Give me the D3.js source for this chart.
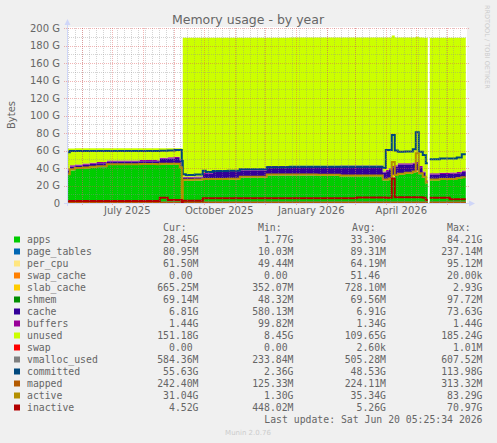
<!DOCTYPE html>
<html lang="en">
<head>
<meta charset="UTF-8">
<title>Memory usage - by year</title>
<script src="https://cdnjs.cloudflare.com/ajax/libs/d3/7.8.5/d3.min.js"></script>
<style>
  body { margin: 0; background: #f0f0f0; }
  svg { display: block; }
  text { font-family: "DejaVu Sans", sans-serif; fill: #666; }
  .mono text { font-family: "DejaVu Sans Mono", monospace; font-size: 9.8px; white-space: pre; }
</style>
</head>
<body>
<svg id="chart" width="497" height="443"></svg>
<script>
// sample dates (one value per series per date, step held until the next date)
const dates = [
  "2025-05-17", "2025-05-20", "2025-05-25", "2025-06-02", "2025-06-09", "2025-06-16", "2025-06-26",
  "2025-07-14", "2025-07-29", "2025-08-15", "2025-08-18", "2025-08-26", "2025-09-02", "2025-09-07",
  "2025-09-09", "2025-09-10", "2025-09-13", "2025-09-22", "2025-09-30", "2025-10-03", "2025-10-10",
  "2025-10-25", "2025-11-06", "2025-11-21", "2025-12-03", "2025-12-26", "2026-01-22", "2026-02-14",
  "2026-03-03", "2026-03-18", "2026-03-29", "2026-04-01", "2026-04-04", "2026-04-07", "2026-04-10",
  "2026-04-13", "2026-04-20", "2026-04-28", "2026-05-01", "2026-05-04", "2026-05-08", "2026-05-11",
  "2026-05-13", "2026-05-14", "2026-05-15", "2026-05-25", "2026-06-04", "2026-06-11", "2026-06-16",
  "2026-06-20"
];

// stacked series, in GiB
const apps = [32, 37.5, 39, 39.6, 40.5, 41, 43.4, 43.4, 43.6, 43.4, 44, 44, 44, 40, 1.8, 25.5, 25.5, 25.8, 26.5, 26.5, 26.5,
  26.8, 29, 29, 31.5, 31.5, 31.2, 30.5, 30.5, 30.5, 26, 26, 27, 29, 31, 32.5, 33.5, 35, 35.5, 33, 29, 22.5,
  22.5, null, 26, 26.5, 26.5, 27.5, 28.5, 28.5];
const page_tables = [0.07, 0.07, 0.07, 0.07, 0.07, 0.07, 0.07, 0.07, 0.07, 0.07, 0.07, 0.07, 0.07, 0.07, 0.01, 0.09, 0.09, 0.09, 0.09, 0.09, 0.09,
  0.09, 0.09, 0.09, 0.09, 0.09, 0.09, 0.09, 0.09, 0.09, 0.09, 0.09, 0.09, 0.2, 0.09, 0.09, 0.09, 0.09, 0.2, 0.09, 0.09, 0.08,
  0.08, null, 0.08, 0.08, 0.08, 0.08, 0.08, 0.08];
const per_cpu = [0.05, 0.05, 0.05, 0.05, 0.05, 0.05, 0.05, 0.05, 0.05, 0.05, 0.05, 0.05, 0.05, 0.05, 0.05, 0.06, 0.06, 0.06, 0.06, 0.06, 0.06,
  0.06, 0.06, 0.06, 0.06, 0.06, 0.06, 0.06, 0.06, 0.06, 0.06, 0.06, 0.06, 0.06, 0.06, 0.06, 0.06, 0.06, 0.06, 0.06, 0.06, 0.06,
  0.06, null, 0.06, 0.06, 0.06, 0.06, 0.06, 0.06];
const swap_cache = [0, 0, 0, 0, 0, 0, 0, 0, 0, 0, 0, 0, 0, 0, 0, 0, 0, 0, 0, 0, 0,
  0, 0, 0, 0, 0, 0, 0, 0, 0, 0, 0, 0, 0, 0, 0, 0, 0, 0, 0, 0, 0,
  0, null, 0, 0, 0, 0, 0, 0];
const slab_cache = [0.6, 0.6, 0.65, 0.65, 0.65, 0.7, 0.7, 0.7, 0.7, 0.7, 0.75, 0.75, 0.75, 0.8, 0.4, 0.5, 0.5, 0.55, 0.6, 0.6, 0.65,
  0.65, 0.7, 0.7, 0.7, 0.75, 0.75, 0.75, 0.75, 0.75, 0.8, 0.8, 0.8, 2.9, 0.8, 0.8, 0.8, 0.8, 1.5, 0.8, 0.7, 0.65,
  0.65, null, 0.65, 0.65, 0.65, 0.65, 0.67, 0.67];
const shmem = [0.06, 0.06, 0.06, 0.06, 0.07, 0.07, 0.07, 0.07, 0.07, 0.07, 0.07, 0.07, 0.07, 0.07, 0.05, 0.07, 0.07, 0.07, 0.07, 0.07, 0.07,
  0.07, 0.07, 0.07, 0.07, 0.07, 0.07, 0.07, 0.07, 0.07, 0.07, 0.07, 0.07, 0.07, 0.07, 0.07, 0.07, 0.07, 0.07, 0.07, 0.07, 0.07,
  0.07, null, 0.07, 0.07, 0.07, 0.07, 0.07, 0.07];
const cache = [4.5, 3.5, 3, 3.3, 3.5, 3.5, 3, 3, 3.2, 3.3, 5.5, 6, 6.5, 7.5, 0.6, 2.5, 2.5, 2.6, 5.8, 6.2, 8.2,
  7.8, 7.2, 7.2, 8.5, 8.7, 9, 10, 10, 10, 7.7, 9.2, 10.3, 8.7, 9.7, 10.5, 9.5, 8.7, 8.2, 6.7, 4.7, 1.2,
  1.2, null, 5.7, 5.7, 6.2, 5.7, 6.2, 6.2];
const buffers = [1.2, 1.25, 1.3, 1.3, 1.3, 1.35, 1.35, 1.35, 1.35, 1.4, 1.4, 1.4, 1.4, 1.4, 0.1, 1.2, 1.25, 1.25, 1.3, 1.3, 1.3,
  1.3, 1.35, 1.35, 1.35, 1.35, 1.4, 1.4, 1.4, 1.4, 1.4, 1.4, 1.4, 1.4, 1.4, 1.44, 1.44, 1.44, 1.44, 1.44, 1.44, 1.44,
  1.44, null, 1.44, 1.44, 1.44, 1.44, 1.44, 1.44];
const unused = [23.9, 19.3, 18.3, 17.4, 16.3, 15.7, 13.8, 13.8, 13.4, 13.5, 10.7, 10.2, 9.7, 12.7, 59.1, 158.9, 158.8, 158.4, 154.5, 154.1, 152.1,
  152.2, 150.5, 150.5, 146.7, 146.5, 146.5, 146.2, 146.2, 146.2, 153, 151.5, 149.4, 149, 146, 143.6, 143.6, 142.9, 142.9, 146.9, 152.9, 162.9,
  162.9, null, 154.9, 154.4, 153.9, 153.4, 151.9, 151.9];
const swap = [0, 0, 0, 0, 0, 0, 0, 0, 0, 0, 0, 0, 0, 0, 0, 0, 0, 0, 0, 0, 0,
  0, 0, 0, 0, 0, 0, 0, 0, 0, 0, 0, 0, 0, 0, 0, 0, 0, 0, 0, 0, 0,
  0, null, 0, 0, 0, 0, 0, 0];

// line series, in GiB
const vmalloc_used = [0.5, 0.5, 0.5, 0.5, 0.5, 0.5, 0.5, 0.5, 0.5, 0.5, 0.5, 0.5, 0.5, 0.5, 0.25, 0.55, 0.55, 0.55, 0.55, 0.55, 0.55,
  0.55, 0.55, 0.55, 0.55, 0.55, 0.55, 0.55, 0.55, 0.55, 0.58, 0.58, 0.58, 0.6, 0.58, 0.58, 0.58, 0.58, 0.6, 0.58, 0.58, 0.58,
  0.58, null, 0.58, 0.58, 0.58, 0.58, 0.58, 0.58];
const committed = [58, 59.4, 59.4, 59.4, 59.4, 59.4, 59.4, 59.4, 59.4, 59.4, 59.6, 60, 60.5, 60.5, 48, 33, 32, 32.5, 37, 35.5, 36.5,
  37, 38.5, 38.5, 41, 41.5, 41.5, 41.5, 41.5, 41.5, 40, 60.6, 60.6, 77.7, 60, 58.7, 59, 61.3, 80.8, 58.7, 55, 45.3,
  45.3, null, 50, 51, 51, 52, 55.6, 55.6];
const mapped = [0.2, 0.2, 0.2, 0.2, 0.2, 0.2, 0.2, 0.2, 0.2, 0.22, 0.22, 0.22, 0.22, 0.22, 0.13, 0.2, 0.2, 0.2, 0.22, 0.22, 0.22,
  0.22, 0.22, 0.22, 0.23, 0.23, 0.23, 0.23, 0.23, 0.23, 0.23, 0.24, 0.24, 0.3, 0.24, 0.24, 0.24, 0.24, 0.31, 0.24, 0.24, 0.24,
  0.24, null, 0.24, 0.24, 0.24, 0.24, 0.24, 0.24];
const active = [33, 38.5, 40, 40.6, 41.5, 42, 44.4, 44.4, 44.6, 44.4, 45, 45, 45, 41, 1.3, 26.5, 26.5, 26.8, 27.5, 27.5, 27.5,
  27.8, 30, 30, 32.5, 32.5, 32.2, 31.5, 31.5, 31.5, 27, 27, 28, 47, 32, 33.5, 34.5, 36, 56.8, 34, 30, 23.5,
  23.5, null, 27, 27.5, 27.5, 28.5, 29.5, 29.5];
const inactive = [2.3, 2.3, 2.3, 2.3, 2.3, 2.3, 2.3, 2.3, 2.3, 2.3, 6, 3.4, 3.4, 3.4, 0.5, 2.7, 2.7, 2.7, 5.3, 5.3, 5.3,
  5.3, 5.3, 5.3, 5.3, 5.3, 5.3, 5.5, 6.2, 6.2, 6.2, 6, 6, 28, 6.5, 6.5, 6.5, 6.5, 6.5, 6.5, 6, 3.5,
  3.5, null, 6, 6, 4.2, 4.2, 4.2, 4.2];

// legend
const names = ["apps", "page_tables", "per_cpu", "swap_cache", "slab_cache", "shmem", "cache", "buffers",
  "unused", "swap", "vmalloc_used", "committed", "mapped", "active", "inactive"];
const colors = ["#00CC00", "#0066B3", "#FFE680", "#FF8000", "#FFCC00", "#008F00", "#330099", "#990099",
  "#CCFF00", "#FF0000", "#808080", "#00487D", "#B35A00", "#B38F00", "#B30000"];
const curText = ["28.45G", "80.95M", "61.50M", "0.00 ", "665.25M", "69.14M", "6.81G", "1.44G",
  "151.18G", "0.00 ", "584.36M", "55.63G", "242.40M", "31.04G", "4.52G"];
const minText = ["1.77G", "10.03M", "49.44M", "0.00 ", "352.07M", "48.32M", "580.13M", "99.82M",
  "8.45G", "0.00 ", "233.84M", "2.36G", "125.33M", "1.30G", "448.02M"];
const avgText = ["33.30G", "89.31M", "64.19M", "51.46 ", "728.10M", "69.56M", "6.91G", "1.34G",
  "109.65G", "2.60k", "505.28M", "48.53G", "224.11M", "35.34G", "5.26G"];
const maxText = ["84.21G", "237.14M", "95.12M", "20.00k", "2.93G", "97.72M", "73.63G", "1.44G",
  "185.24G", "1.01M", "607.52M", "113.98G", "313.32M", "83.29G", "70.97G"];

const yTicks = [0, 20, 40, 60, 80, 100, 120, 140, 160, 180, 200];
const xTickDates = ["2025-07-16", "2025-10-16", "2026-01-16", "2026-04-16"];
const xTickLabels = ["July 2025", "October 2025", "January 2026", "April 2026"];

const stackKeys = names.slice(0, 10);
const lineKeys = names.slice(10);
const seriesByName = { apps, page_tables, per_cpu, swap_cache, slab_cache, shmem, cache, buffers, unused, swap,
  vmalloc_used, committed, mapped, active, inactive };
const colorOf = Object.fromEntries(names.map((n, i) => [n, colors[i]]));

const svg = d3.select("#chart");
const W = 497, H = 443;
const pLeft = 67, pRight = 467, pTop = 28, pBottom = 203;

const x = d3.scaleUtc()
  .domain([new Date("2025-05-16T05:25:00Z"), new Date("2026-06-20T05:25:00Z")])
  .range([66, 466]);
const y = d3.scaleLinear().domain([0, 200]).range([pBottom, pTop]);

svg.append("rect").attr("width", W).attr("height", H).attr("fill", "#f0f0f0");
svg.append("rect").attr("x", pLeft).attr("y", pTop - 1).attr("width", pRight - pLeft).attr("height", pBottom - pTop + 1).attr("fill", "#fff");

svg.append("defs").append("clipPath").attr("id", "clip")
  .append("rect").attr("x", pLeft).attr("y", pTop - 1).attr("width", pRight - pLeft).attr("height", pBottom - pTop + 1);

const rows = dates.map((d, i) => {
  const r = { date: new Date(d) };
  names.forEach(n => r[n] = seriesByName[n][i]);
  return r;
});

const stacked = d3.stack().keys(stackKeys).value((r, k) => r[k] == null ? 0 : r[k])(rows);

const area = d3.area()
  .curve(d3.curveStepAfter)
  .defined(d => d.data.apps != null)
  .x(d => x(d.data.date))
  .y0(d => y(d[0]))
  .y1(d => y(d[1]));

const dataG = svg.append("g").attr("clip-path", "url(#clip)");
dataG.selectAll("path.area")
  .data(stacked)
  .join("path")
  .attr("class", "area")
  .attr("fill", d => colorOf[d.key])
  .attr("d", area);

lineKeys.forEach(k => {
  const line = d3.line()
    .curve(d3.curveStepAfter)
    .defined(r => r[k] != null)
    .x(r => x(r.date))
    .y(r => y(r[k]));
  dataG.append("path")
    .attr("fill", "none")
    .attr("stroke", colorOf[k])
    .attr("stroke-width", 2)
    .attr("d", line(rows));
});

// grid (drawn on top, rrdtool style)
const gridG = svg.append("g").attr("shape-rendering", "crispEdges");
const minorY = d3.range(10, 200, 20);
const majorY = yTicks.filter(v => v > 0);
const weeks = d3.utcSunday.range(x.domain()[0], x.domain()[1]);
const months = d3.utcMonth.range(x.domain()[0], x.domain()[1]);
const minorColor = "rgba(143,143,143,0.38)";
const majorColor = "rgba(222,79,79,0.42)";

gridG.selectAll("line.minor-y").data(minorY).join("line")
  .attr("x1", pLeft).attr("x2", pRight).attr("y1", d => Math.round(y(d)) + 0.5).attr("y2", d => Math.round(y(d)) + 0.5)
  .attr("stroke", minorColor).attr("stroke-dasharray", "1,1");
gridG.selectAll("line.minor-x").data(weeks).join("line")
  .attr("x1", d => Math.round(x(d)) + 0.5).attr("x2", d => Math.round(x(d)) + 0.5).attr("y1", pTop).attr("y2", pBottom)
  .attr("stroke", minorColor).attr("stroke-dasharray", "1,1");
gridG.selectAll("line.major-y").data(majorY).join("line")
  .attr("x1", pLeft - 3).attr("x2", pRight + 2).attr("y1", d => Math.round(y(d)) + 0.5).attr("y2", d => Math.round(y(d)) + 0.5)
  .attr("stroke", majorColor).attr("stroke-dasharray", "1,1");
gridG.selectAll("line.major-x").data(months).join("line")
  .attr("x1", d => Math.round(x(d)) + 0.5).attr("x2", d => Math.round(x(d)) + 0.5).attr("y1", pTop).attr("y2", pBottom + 3)
  .attr("stroke", majorColor).attr("stroke-dasharray", "1,1");

// axes lines with arrows
const axisColor = "#CFD6F8";
svg.append("line").attr("x1", pLeft + 0.5).attr("x2", pLeft + 0.5).attr("y1", pBottom + 3).attr("y2", pTop - 6)
  .attr("stroke", axisColor);
svg.append("line").attr("x1", pLeft - 3).attr("x2", pRight + 3).attr("y1", pBottom + 0.5).attr("y2", pBottom + 0.5)
  .attr("stroke", axisColor);
svg.append("path").attr("d", `M${pLeft - 2.5},${pTop - 3} L${pLeft + 0.5},${pTop - 9} L${pLeft + 3.5},${pTop - 3} Z`).attr("fill", axisColor);
svg.append("path").attr("d", `M${pRight + 2},${pBottom - 2.5} L${pRight + 8},${pBottom + 0.5} L${pRight + 2},${pBottom + 3.5} Z`).attr("fill", axisColor);

const yAxis = svg.append("g")
  .attr("transform", `translate(${pLeft},0)`)
  .call(d3.axisLeft(y).tickValues(yTicks).tickSize(0).tickPadding(7)
    .tickFormat(d => d === 0 ? "0" : d + " G"));
yAxis.select(".domain").remove();
yAxis.selectAll("text").attr("font-size", "10px").attr("font-family", "DejaVu Sans").attr("fill", "#666");

const xAxis = svg.append("g")
  .attr("transform", `translate(0,${pBottom})`)
  .call(d3.axisBottom(x).tickValues(xTickDates.map(d => new Date(d))).tickSize(0).tickPadding(4)
    .tickFormat((d, i) => xTickLabels[i]));
xAxis.select(".domain").remove();
xAxis.selectAll("text").attr("font-size", "10px").attr("font-family", "DejaVu Sans").attr("fill", "#666");

// titles
svg.append("text").attr("x", 248).attr("y", 23.5).attr("text-anchor", "middle")
  .attr("font-size", "12.5px").text("Memory usage - by year");
svg.append("text").attr("transform", "translate(15,115) rotate(-90)").attr("text-anchor", "middle")
  .attr("font-size", "10px").text("Bytes");
svg.append("text").attr("transform", "translate(485,5) rotate(90)")
  .attr("font-size", "6.5px").style("fill", "#cccccc").text("RRDTOOL / TOBI OETIKER");

// legend
const lg = svg.append("g").attr("class", "mono");
const headers = [["Cur:", 163], ["Min:", 258], ["Avg:", 352], ["Max:", 447]];
headers.forEach(([t, hx]) => lg.append("text").attr("x", hx).attr("y", 231).text(t));
names.forEach((n, i) => {
  const by = 243 + 12 * i;
  lg.append("rect").attr("x", 14).attr("y", by - 6.5).attr("width", 6).attr("height", 6).attr("fill", colors[i]);
  lg.append("text").attr("x", 27).attr("y", by).text(n);
  lg.append("text").attr("x", 198.5).attr("y", by).attr("text-anchor", "end").text(curText[i]);
  lg.append("text").attr("x", 293.5).attr("y", by).attr("text-anchor", "end").text(minText[i]);
  lg.append("text").attr("x", 386).attr("y", by).attr("text-anchor", "end").text(avgText[i]);
  lg.append("text").attr("x", 482.5).attr("y", by).attr("text-anchor", "end").text(maxText[i]);
});
lg.append("text").attr("x", 482.5).attr("y", 423).attr("text-anchor", "end")
  .text("Last update: Sat Jun 20 05:25:34 2026");

svg.append("text").attr("x", 248).attr("y", 435).attr("text-anchor", "middle")
  .attr("font-size", "7px").style("fill", "#cccccc").text("Munin 2.0.76");
</script>
</body>
</html>
